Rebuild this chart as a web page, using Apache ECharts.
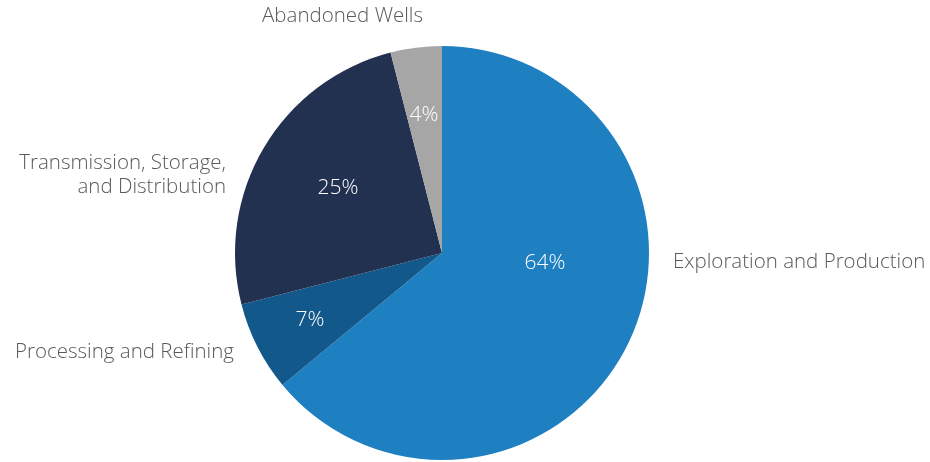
<!DOCTYPE html>
<html><head><meta charset="utf-8">
<script src="https://cdn.jsdelivr.net/npm/echarts@6/dist/echarts.min.js"></script>
<style>html,body{margin:0;padding:0;background:#fff}#c{width:930px;height:462px}</style>
</head><body><div id="c"></div>
<script>
const categories = ['Exploration and Production','Processing and Refining','Transmission, Storage,\nand Distribution','Abandoned Wells'];
const values = [64, 7, 25, 4];
const colors = ['#1e7fc1','#12588b','#233150','#a6a6a6'];
// label anchor placement (layout only)
const nameLabelPos = [[673,262,'left'],[234,352,'right'],[226,175,'right'],[423,16,'right']];
const pctLabelPos = [[545,263],[310,320],[338,188],[424,115]];

const data = categories.map((n,i)=>({name:n, value:values[i], itemStyle:{color:colors[i]}}));
const font = '"Open Sans", sans-serif';
const chart = echarts.init(document.getElementById('c'));
chart.setOption({
  animation:false,
  series:[
    {type:'pie', center:[442,253], radius:207, startAngle:90, clockwise:true, silent:true,
     data:data,
     itemStyle:{borderColor:'#fff', borderWidth:0},
     label:{show:true, position:'inside', formatter:'{c}%', color:'#fff', fontSize:21, fontWeight:300, fontFamily:font},
     labelLine:{show:false},
     labelLayout:function(p){const q=pctLabelPos[p.dataIndex];return {x:q[0],y:q[1],align:'center',verticalAlign:'middle'};}
    },
    {type:'pie', center:[442,253], radius:207, startAngle:90, clockwise:true, silent:true,
     data:data.map(d=>({name:d.name,value:d.value,itemStyle:{color:'rgba(0,0,0,0)'}})),
     label:{show:true, position:'outside', alignTo:'none', overflow:'none', formatter:'{b}', color:'#595959', fontSize:20.5, fontWeight:300, lineHeight:24, fontFamily:font},
     labelLine:{show:false},
     labelLayout:function(p){const q=nameLabelPos[p.dataIndex];return {x:q[0],y:q[1],align:q[2],verticalAlign:'middle'};}
    }
  ]
});
</script></body></html>
